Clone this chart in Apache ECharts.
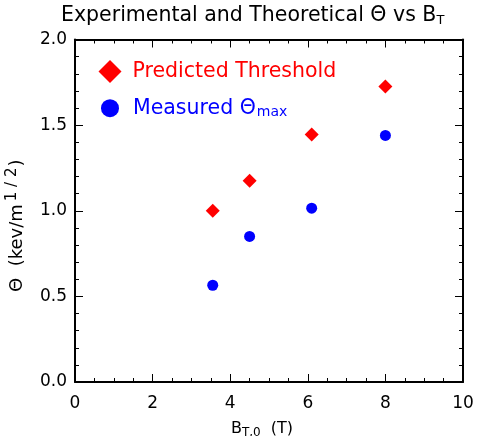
<!DOCTYPE html>
<html>
<head>
<meta charset="utf-8">
<script src="https://cdn.jsdelivr.net/npm/echarts@6/dist/echarts.min.js"></script>
<style>
  html, body { margin: 0; padding: 0; background: #fff; }
  #chart { width: 477px; height: 436px; }
</style>
</head>
<body>
<div id="chart"></div>
<script>
// Toroidal field B_T,0 (T) for each shot group
const fieldT = [3.55, 4.5, 6.1, 8.0];
// Predicted threshold Θ (kev/m^1/2)
const predicted = [1.00, 1.175, 1.445, 1.725];
// Measured Θmax (kev/m^1/2)
const measured = [0.565, 0.85, 1.015, 1.44];

const xTicks = { min: 0, max: 10, interval: 2 };
const yTicks = { min: 0, max: 2, interval: 0.5 };

const FONT = 'DejaVu Sans';

const chart = echarts.init(document.getElementById('chart'), null, { renderer: 'canvas' });

const frameAxis = {
  axisLine: { show: true, onZero: false, lineStyle: { color: '#000', width: 2 } },
  axisTick: { show: true, inside: true, length: 8, lineStyle: { color: '#000', width: 1 } },
  minorTick: { show: true, length: 4, lineStyle: { color: '#000', width: 1 } },
  splitLine: { show: false },
  minorSplitLine: { show: false }
};

chart.setOption({
  backgroundColor: '#fff',
  animation: false,
  title: {
    text: 'Experimental and Theoretical Θ vs B{s|T}',
    left: 56,
    top: -1,
    textStyle: {
      fontFamily: FONT, fontSize: 20.5, fontWeight: 'normal', color: '#000',
      rich: {
        s: { fontFamily: FONT, fontSize: 13, color: '#000', verticalAlign: 'bottom', padding: [10, 0, 0, 0] }
      }
    }
  },
  grid: { left: 75, right: 14, top: 39.5, bottom: 54, containLabel: false, outerBoundsMode: 'none' },
  legend: [
    {
      data: ['Predicted Threshold'],
      icon: 'diamond',
      orient: 'vertical',
      left: 93.5, top: 55,
      itemWidth: 23, itemHeight: 23,
      selectedMode: false,
      formatter: name => '{p|' + name + '}',
      textStyle: {
        rich: { p: { fontFamily: FONT, fontSize: 20.5, color: '#ff0000', padding: [0, 0, 0, 6] } }
      }
    },
    {
      data: ['Measured Θmax'],
      icon: 'circle',
      orient: 'vertical',
      left: 96, top: 92.7,
      itemWidth: 18, itemHeight: 18,
      selectedMode: false,
      formatter: () => '{m|Measured Θ}{s|max}',
      textStyle: {
        rich: {
          m: { fontFamily: FONT, fontSize: 20.5, color: '#0000ff', padding: [0, 0, 0, 9] },
          s: { fontFamily: FONT, fontSize: 14, color: '#0000ff', verticalAlign: 'bottom', padding: [9, 0, 0, 1] }
        }
      }
    }
  ],
  xAxis: [
    Object.assign({
      type: 'value', position: 'bottom',
      min: xTicks.min, max: xTicks.max, interval: xTicks.interval,
      name: 'B{s|T,0}  (T)',
      nameLocation: 'middle', nameGap: 37,
      nameTextStyle: {
        fontFamily: FONT, fontSize: 16, color: '#000', padding: [0, 14, 0, 0],
        rich: { s: { fontFamily: FONT, fontSize: 12, color: '#000', verticalAlign: 'bottom', padding: [8, 0, 0, 0] } }
      },
      axisLabel: { show: true, margin: 13, fontFamily: FONT, fontSize: 17, color: '#000' }
    }, frameAxis, { minorTick: Object.assign({}, frameAxis.minorTick, { splitNumber: 4 }) }),
    Object.assign({
      type: 'value', position: 'top',
      min: xTicks.min, max: xTicks.max, interval: xTicks.interval,
      axisLabel: { show: false }
    }, frameAxis, { minorTick: Object.assign({}, frameAxis.minorTick, { splitNumber: 4 }) })
  ],
  yAxis: [
    Object.assign({
      type: 'value', position: 'left',
      min: yTicks.min, max: yTicks.max, interval: yTicks.interval,
      name: 'Θ  (kev/m{u|1 / 2}{t|)}',
      nameLocation: 'middle', nameRotate: 90, nameGap: 46,
      nameTextStyle: {
        fontFamily: FONT, fontSize: 18, color: '#000', padding: [0, 30, 0, 0],
        rich: {
          u: { fontFamily: FONT, fontSize: 15, color: '#000', verticalAlign: 'top', padding: [0, 1, 9, 3] },
          t: { fontFamily: FONT, fontSize: 18, color: '#000' }
        }
      },
      axisLabel: { show: true, margin: 8, fontFamily: FONT, fontSize: 17, color: '#000', formatter: v => v.toFixed(1) }
    }, frameAxis, { minorTick: Object.assign({}, frameAxis.minorTick, { splitNumber: 5 }) }),
    Object.assign({
      type: 'value', position: 'right',
      min: yTicks.min, max: yTicks.max, interval: yTicks.interval,
      axisLabel: { show: false }
    }, frameAxis, { minorTick: Object.assign({}, frameAxis.minorTick, { splitNumber: 5 }) })
  ],
  series: [
    {
      name: 'Predicted Threshold',
      type: 'scatter',
      symbol: 'diamond',
      symbolSize: 14,
      itemStyle: { color: '#ff0000', opacity: 1 },
      data: fieldT.map((x, i) => [x, predicted[i]])
    },
    {
      name: 'Measured Θmax',
      type: 'scatter',
      symbol: 'circle',
      symbolSize: 11,
      itemStyle: { color: '#0000ff', opacity: 1 },
      data: fieldT.map((x, i) => [x, measured[i]])
    }
  ]
});
</script>
</body>
</html>
